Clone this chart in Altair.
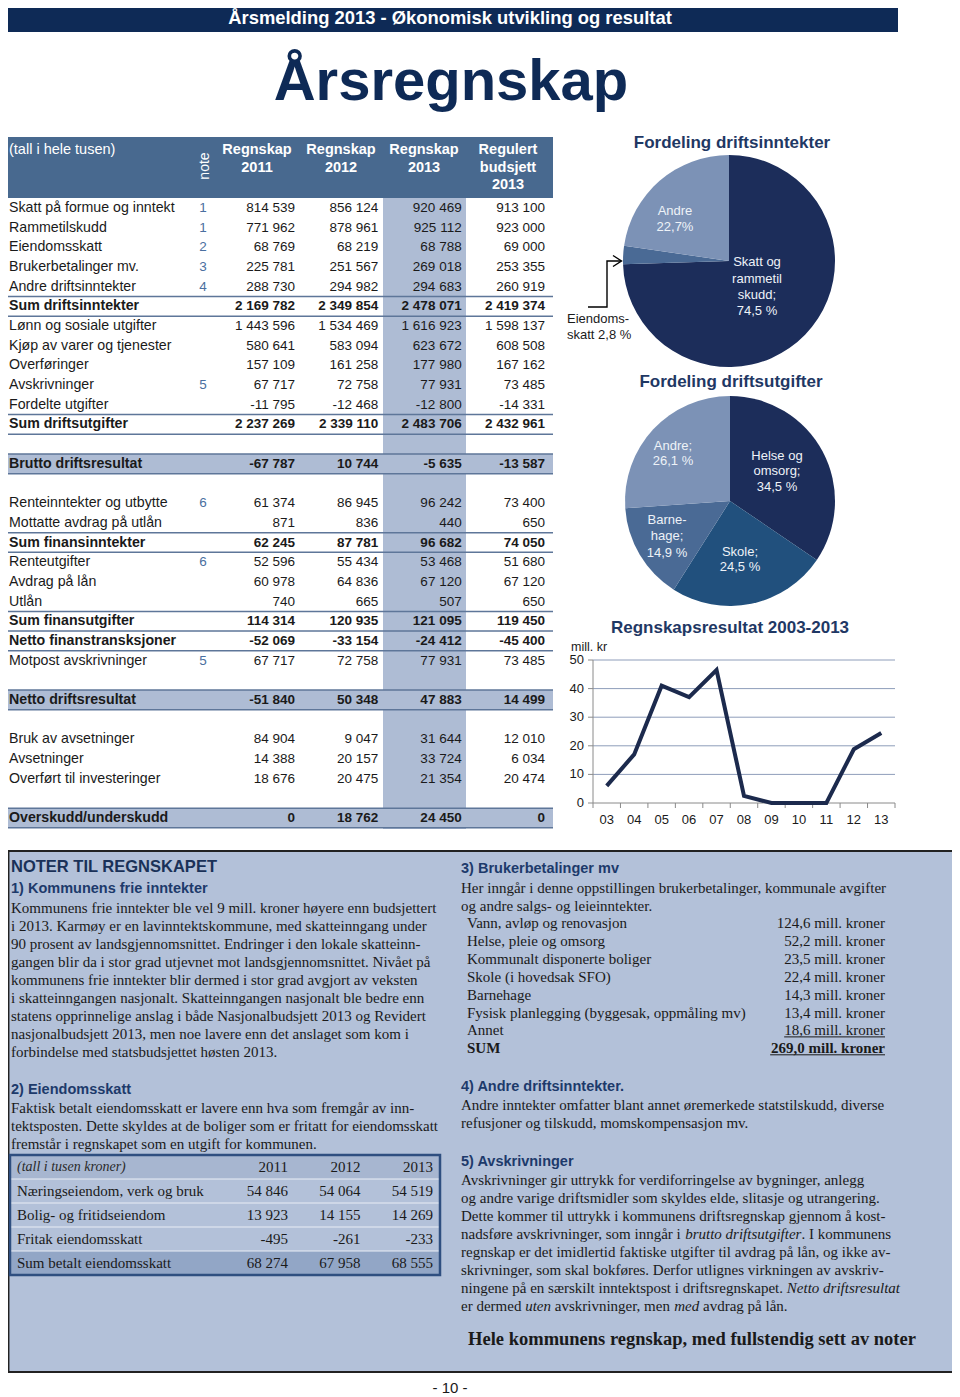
import altair as alt
import pandas as pd

W, H = 944, 1389
OX, OY = 8, 8

SANS = "Liberation Sans"
SERIF = "Liberation Serif"

NAVY = "#0e2a56"
TITLE_NAVY = "#1f3864"
HEAD_BLUE = "#48698f"
HILITE = "#aebcd4"
LINE_BLUE = "#5e7699"
PANEL = "#b3c1d9"
INK = "#1a1a1a"
NOTE_BLUE = "#4a6fa0"

# ---------------- data: main table ----------------
ROW_LABELS = [
    "Skatt på formue og inntekt", "Rammetilskudd", "Eiendomsskatt", "Brukerbetalinger mv.",
    "Andre driftsinntekter", "Sum driftsinntekter", "Lønn og sosiale utgifter",
    "Kjøp av varer og tjenester", "Overføringer", "Avskrivninger", "Fordelte utgifter",
    "Sum driftsutgifter", None, "Brutto driftsresultat", None, "Renteinntekter og utbytte",
    "Mottatte avdrag på utlån", "Sum finansinntekter", "Renteutgifter", "Avdrag på lån",
    "Utlån", "Sum finansutgifter", "Netto finanstransksjoner", "Motpost avskrivninger",
    None, "Netto driftsresultat", None, "Bruk av avsetninger", "Avsetninger",
    "Overført til investeringer", None, "Overskudd/underskudd",
]
ROW_NOTES = ["1", "1", "2", "3", "4", "", "", "", "", "5", "", "", None, "", None, "6", "", "",
             "6", "", "", "", "", "5", None, "", None, "", "", "", None, ""]
R2011 = [814539, 771962, 68769, 225781, 288730, 2169782, 1443596, 580641, 157109, 67717, -11795,
         2237269, None, -67787, None, 61374, 871, 62245, 52596, 60978, 740, 114314, -52069, 67717,
         None, -51840, None, 84904, 14388, 18676, None, 0]
R2012 = [856124, 878961, 68219, 251567, 294982, 2349854, 1534469, 583094, 161258, 72758, -12468,
         2339110, None, 10744, None, 86945, 836, 87781, 55434, 64836, 665, 120935, -33154, 72758,
         None, 50348, None, 9047, 20157, 20475, None, 18762]
R2013 = [920469, 925112, 68788, 269018, 294683, 2478071, 1616923, 623672, 177980, 77931, -12800,
         2483706, None, -5635, None, 96242, 440, 96682, 53468, 67120, 507, 121095, -24412, 77931,
         None, 47883, None, 31644, 33724, 21354, None, 24450]
BUDGET = [913100, 923000, 69000, 253355, 260919, 2419374, 1598137, 608508, 167162, 73485, -14331,
          2432961, None, -13587, None, 73400, 650, 74050, 51680, 67120, 650, 119450, -45400, 73485,
          None, 14499, None, 12010, 6034, 20474, None, 0]
COL_HEADS = [["Regnskap", "2011"], ["Regnskap", "2012"], ["Regnskap", "2013"],
             ["Regulert", "budsjett", "2013"]]
BOLD_ROWS = {"Sum driftsinntekter", "Sum driftsutgifter", "Brutto driftsresultat",
             "Sum finansinntekter", "Sum finansutgifter", "Netto finanstransksjoner",
             "Netto driftsresultat", "Overskudd/underskudd"}
BAND_ROWS = {"Brutto driftsresultat", "Netto driftsresultat", "Overskudd/underskudd"}

# ---------------- data: pies ----------------
INC_CATS = ["Skatt og rammetilskudd", "Eiendomsskatt", "Andre"]
INC_SHARE = [74.5, 2.8, 22.7]
EXP_CATS = ["Helse og omsorg", "Skole", "Barnehage", "Andre"]
EXP_SHARE = [34.5, 24.5, 14.9, 26.1]

# ---------------- data: line chart ----------------
YEARS = ["03", "04", "05", "06", "07", "08", "09", "10", "11", "12", "13"]
RESULT = [6.0, 17.0, 41.0, 37.0, 46.5, 2.5, 0.0, 0.0, 0.0, 18.8, 24.5]
Y_TICKS = [0, 10, 20, 30, 40, 50]

# ---------------- data: notes ----------------
ES_YEARS = ["2011", "2012", "2013"]
ES_LABELS = ["Næringseiendom, verk og bruk", "Bolig- og fritidseiendom", "Fritak eiendomsskatt",
             "Sum betalt eiendomsskatt"]
ES_2011 = [54846, 13923, -495, 68274]
ES_2012 = [54064, 14155, -261, 67958]
ES_2013 = [54519, 14269, -233, 68555]
BB_LABELS = ["Vann, avløp og renovasjon", "Helse, pleie og omsorg", "Kommunalt disponerte boliger",
             "Skole (i hovedsak SFO)", "Barnehage", "Fysisk planlegging (byggesak, oppmåling mv)",
             "Annet"]
BB_VALUES = [124.6, 52.2, 23.5, 22.4, 14.3, 13.4, 18.6]
BB_SUM = 269.0

# ---------------- helpers ----------------
TIMES = {" ": 250, ",": 250, ".": 250, "-": 333, "(": 333, ")": 333, ";": 278, ":": 278,
         "a": 444, "b": 500, "c": 444, "d": 500, "e": 444, "f": 333, "g": 500, "h": 500, "i": 278,
         "j": 278, "k": 500, "l": 278, "m": 778, "n": 500, "o": 500, "p": 500, "q": 500, "r": 333,
         "s": 389, "t": 278, "u": 500, "v": 500, "w": 722, "x": 500, "y": 500, "z": 444,
         "å": 444, "æ": 667, "ø": 500, "N": 722, "I": 333, "D": 722}
TIMES_I = dict(TIMES, a=500, f=278, k=444, m=722, r=389, v=444, w=667, y=444, z=389, N=667)


def tw(s, size, italic=False):
    tbl = TIMES_I if italic else TIMES
    return sum(tbl.get(ch, 500) for ch in s) * size / 1000.0


def fmt_int(v):
    return f"{v:,}".replace(",", " ")


def fmt_mill(v):
    return f"{v:.1f}".replace(".", ",") + " mill. kroner"


def sx():
    return alt.Scale(domain=[OX, OX + W], range=[0, W], nice=False, zero=False)


def sy():
    return alt.Scale(domain=[OY, OY + H], range=[0, H], nice=False, zero=False)


def PX(f):
    return alt.X(f"{f}:Q", scale=sx(), axis=None)


def PY(f):
    return alt.Y(f"{f}:Q", scale=sy(), axis=None)


def texts(items, **mk):
    df = pd.DataFrame(items, columns=["x", "y", "t"])
    return alt.Chart(df).mark_text(**mk).encode(x=PX("x"), y=PY("y"), text=alt.Text("t:N"))


def rects(items, **mk):
    df = pd.DataFrame(items, columns=["x", "y", "x2", "y2"])
    return alt.Chart(df).mark_rect(**mk).encode(
        x=PX("x"), y=PY("y"), x2=alt.X2("x2"), y2=alt.Y2("y2"))


def rules(items, **mk):
    df = pd.DataFrame(items, columns=["x", "y", "x2", "y2"])
    return alt.Chart(df).mark_rule(**mk).encode(
        x=PX("x"), y=PY("y"), x2=alt.X2("x2"), y2=alt.Y2("y2"))


L = []

# ---------------- page header ----------------
L.append(rects([(3, 3, 898, 32)], color=NAVY))
L.append(texts([(450, 18, "Årsmelding 2013 - Økonomisk utvikling og resultat")],
               font=SANS, fontSize=18.4, fontWeight="bold", color="white",
               align="center", baseline="middle"))
L.append(texts([(451, 100, "Årsregnskap")], font=SANS, fontSize=58,
               fontWeight="bold", color=NAVY, align="center", baseline="alphabetic"))

# ---------------- main table ----------------
TY = alt.Scale(domain=[0, len(ROW_LABELS) - 1], range=[208 - OY, 818 - OY], nice=False, zero=False)
TX = alt.Scale(domain=[0, 3], range=[295 - OX, 545 - OX], nice=False, zero=False)

L.append(rects([(3, 137, 553, 198)], color=HEAD_BLUE))
L.append(rects([(383, 198, 466, 829)], color=HILITE))

band_df = pd.DataFrame([{"a": i - 0.5, "b": i + 0.5} for i, lab in enumerate(ROW_LABELS)
                        if lab in BAND_ROWS])
L.append(alt.Chart(band_df).mark_rect(color=HILITE).encode(
    y=alt.Y("a:Q", scale=TY, axis=None), y2=alt.Y2("b"),
    x=alt.value(0), x2=alt.value(553 - OX)))

edges = sorted({e for i, lab in enumerate(ROW_LABELS) if lab in BOLD_ROWS
                for e in (i - 0.5, i + 0.5)})
L.append(alt.Chart(pd.DataFrame({"e": edges})).mark_rule(color=LINE_BLUE, strokeWidth=1.5).encode(
    y=alt.Y("e:Q", scale=TY, axis=None), x=alt.value(0), x2=alt.value(553 - OX)))

# header texts
L.append(texts([(9, 150, "(tall i hele tusen)")], font=SANS, fontSize=14.5, color="white",
               align="left", baseline="middle"))
L.append(texts([(205, 166, "note")], font=SANS, fontSize=14, color="white", align="center",
               baseline="middle", angle=270))
head_items = []
for c, lines in enumerate(COL_HEADS):
    cx = [257, 341, 424, 508][c]
    for k, s in enumerate(lines):
        head_items.append((cx, 150 + k * 17.5, s))
L.append(texts(head_items, font=SANS, fontSize=14.5, fontWeight="bold", color="white",
               align="center", baseline="middle"))

lab_rows = [{"row": i, "t": lab, "note": ROW_NOTES[i], "bold": lab in BOLD_ROWS}
            for i, lab in enumerate(ROW_LABELS) if lab is not None]
lab_df = pd.DataFrame(lab_rows)
for bold in (False, True):
    sub = lab_df[lab_df["bold"] == bold]
    L.append(alt.Chart(sub).mark_text(
        align="left", baseline="middle", font=SANS, fontSize=14.2,
        fontWeight="bold" if bold else "normal", color=INK).encode(
        x=alt.value(9 - OX), y=alt.Y("row:Q", scale=TY, axis=None), text=alt.Text("t:N")))
note_df = lab_df[lab_df["note"] != ""]
L.append(alt.Chart(note_df).mark_text(
    align="center", baseline="middle", font=SANS, fontSize=13.5, color=NOTE_BLUE).encode(
    x=alt.value(203 - OX), y=alt.Y("row:Q", scale=TY, axis=None), text=alt.Text("note:N")))

val_rows = []
for c, arr in enumerate([R2011, R2012, R2013, BUDGET]):
    for i, v in enumerate(arr):
        if v is not None:
            val_rows.append({"row": i, "col": c, "t": fmt_int(v),
                             "bold": ROW_LABELS[i] in BOLD_ROWS})
val_df = pd.DataFrame(val_rows)
for bold in (False, True):
    sub = val_df[val_df["bold"] == bold]
    L.append(alt.Chart(sub).mark_text(
        align="right", baseline="middle", font=SANS, fontSize=13.5,
        fontWeight="bold" if bold else "normal", color=INK).encode(
        x=alt.X("col:Q", scale=TX, axis=None), y=alt.Y("row:Q", scale=TY, axis=None),
        text=alt.Text("t:N")))

# ---------------- pies ----------------
PIE_DARK, PIE_MID, PIE_LIGHT, PIE_SKOLE = "#1c2d5a", "#4a6a95", "#7c92b6", "#21507d"
INC_COLORS = {"Skatt og rammetilskudd": PIE_DARK, "Eiendomsskatt": PIE_MID, "Andre": PIE_LIGHT}
EXP_COLORS = {"Helse og omsorg": PIE_DARK, "Skole": PIE_SKOLE, "Barnehage": PIE_MID,
              "Andre": PIE_LIGHT}


def pie(cats, shares, colors, cx, cy, r):
    df = pd.DataFrame({"cat": cats, "share": shares, "o": list(range(len(cats)))})
    df["col"] = df["cat"].map(colors)
    return alt.Chart(df).mark_arc(outerRadius=r).encode(
        theta=alt.Theta("share:Q", stack=True, scale=alt.Scale(domain=[0, 100])),
        order=alt.Order("o:Q"),
        color=alt.Color("col:N", scale=None),
        x=alt.value(cx - OX), y=alt.value(cy - OY))


L.append(pie(INC_CATS, INC_SHARE, INC_COLORS, 729, 261, 106))
L.append(pie(EXP_CATS, EXP_SHARE, EXP_COLORS, 730, 501, 105))

L.append(texts([(732, 143, "Fordeling driftsinntekter"), (731, 382, "Fordeling driftsutgifter"),
                (730, 628, "Regnskapsresultat 2003-2013")],
               font=SANS, fontSize=17, fontWeight="bold", color=TITLE_NAVY, align="center",
               baseline="middle"))

pie_white = [
    (675, 211, "Andre"), (675, 227, "22,7%"),
    (757, 262, "Skatt og"), (757, 279, "rammetil"), (757, 295, "skudd;"), (757, 311, "74,5 %"),
    (673, 446, "Andre;"), (673, 461, "26,1 %"),
    (777, 456, "Helse og"), (777, 471, "omsorg;"), (777, 487, "34,5 %"),
    (667, 520, "Barne-"), (667, 536, "hage;"), (667, 553, "14,9 %"),
    (740, 552, "Skole;"), (740, 567, "24,5 %"),
]
L.append(texts(pie_white, font=SANS, fontSize=13, color="#eef2f8", align="center",
               baseline="middle"))
L.append(texts([(567, 319, "Eiendoms-"), (567, 335, "skatt  2,8 %")], font=SANS, fontSize=13,
               color=INK, align="left", baseline="middle"))
arrow = pd.DataFrame({
    "x": [588, 607, 607, 621, 613, 621.5, 613],
    "y": [307, 307, 261, 261, 255.5, 261, 266.5],
    "o": [0, 1, 2, 3, 0, 1, 2],
    "seg": ["a", "a", "a", "a", "b", "b", "b"],
})
L.append(alt.Chart(arrow).mark_line(color="black", strokeWidth=1.4).encode(
    x=PX("x"), y=PY("y"), order="o:Q", detail="seg:N"))

# ---------------- line chart ----------------
LX = alt.Scale(domain=[-0.5, len(YEARS) - 0.5], range=[593 - OX, 895 - OX], nice=False, zero=False)
LY = alt.Scale(domain=[Y_TICKS[0], Y_TICKS[-1]], range=[803 - OY, 660 - OY], nice=False, zero=False)

L.append(rects([(593, 660, 895, 803)], color="white"))
grid_df = pd.DataFrame({"v": Y_TICKS[1:]})
L.append(alt.Chart(grid_df).mark_rule(color="#8e9dba", strokeWidth=1).encode(
    y=alt.Y("v:Q", scale=LY, axis=None), x=alt.value(593 - OX), x2=alt.value(895 - OX)))
L.append(alt.Chart(pd.DataFrame({"v": Y_TICKS})).mark_rule(color="#8a8a8a", strokeWidth=1).encode(
    y=alt.Y("v:Q", scale=LY, axis=None), x=alt.value(588 - OX), x2=alt.value(593 - OX)))
L.append(alt.Chart(pd.DataFrame({"a": [Y_TICKS[0]], "b": [Y_TICKS[-1]]})).mark_rule(
    color="#8a8a8a", strokeWidth=1).encode(
    y=alt.Y("a:Q", scale=LY, axis=None), y2=alt.Y2("b"), x=alt.value(593 - OX)))
L.append(alt.Chart(pd.DataFrame({"v": [Y_TICKS[0]]})).mark_rule(color="#8a8a8a", strokeWidth=1).encode(
    y=alt.Y("v:Q", scale=LY, axis=None), x=alt.value(593 - OX), x2=alt.value(895 - OX)))
bounds = pd.DataFrame({"b": [i - 0.5 for i in range(len(YEARS) + 1)]})
L.append(alt.Chart(bounds).mark_rule(color="#8a8a8a", strokeWidth=1).encode(
    x=alt.X("b:Q", scale=LX, axis=None), y=alt.value(803 - OY), y2=alt.value(808 - OY)))
L.append(alt.Chart(pd.DataFrame({"v": Y_TICKS, "t": [str(v) for v in Y_TICKS]})).mark_text(
    align="right", baseline="middle", font=SANS, fontSize=13, color=INK).encode(
    y=alt.Y("v:Q", scale=LY, axis=None), x=alt.value(584 - OX), text=alt.Text("t:N")))
line_df = pd.DataFrame({"i": list(range(len(YEARS))), "yr": YEARS, "v": RESULT})
L.append(alt.Chart(line_df).mark_text(
    align="center", baseline="middle", font=SANS, fontSize=13, color=INK).encode(
    x=alt.X("i:Q", scale=LX, axis=None), y=alt.value(820 - OY), text=alt.Text("yr:N")))
L.append(alt.Chart(line_df).mark_line(color="#1c2a4d", strokeWidth=4, strokeJoin="miter").encode(
    x=alt.X("i:Q", scale=LX, axis=None), y=alt.Y("v:Q", scale=LY, axis=None), order="i:Q"))
L.append(texts([(571, 647, "mill. kr")], font=SANS, fontSize=12.5, color=INK, align="left",
               baseline="middle"))

# ---------------- notes panel ----------------
L.append(rects([(3, 851, 952, 1372)], color=PANEL))
L.append(rules([(3, 851, 952, 851)], color="#222222", strokeWidth=2))
L.append(rules([(3, 1372, 960, 1372)], color="#222222", strokeWidth=2))
L.append(rules([(8.7, 851, 8.7, 1372)], color="#222222", strokeWidth=1.5))

HEAD_MK = dict(font=SANS, fontSize=14.5, fontWeight="bold", color="#1d3a6b", align="left",
               baseline="middle")
BODY_MK = dict(font=SERIF, fontSize=15, color=INK, align="left", baseline="middle")

L.append(texts([(11, 867, "NOTER TIL REGNSKAPET")], font=SANS, fontSize=16.5, fontWeight="bold",
               color="#1a3158", align="left", baseline="middle"))
L.append(texts([(11, 889, "1) Kommunens frie inntekter"), (11, 1090, "2) Eiendomsskatt"),
                (461, 869, "3) Brukerbetalinger mv"), (461, 1087, "4) Andre driftsinntekter."),
                (461, 1162, "5) Avskrivninger")], **HEAD_MK))

NOTE1 = [
    "Kommunens frie inntekter ble vel 9 mill. kroner høyere enn budsjettert",
    "i 2013. Karmøy er en lavinntektskommune, med skatteinngang under",
    "90 prosent av landsgjennomsnittet. Endringer i den lokale skatteinn-",
    "gangen blir da i stor grad utjevnet mot landsgjennomsnittet. Nivået på",
    "kommunens frie inntekter blir dermed i stor grad avgjort av veksten",
    "i skatteinngangen nasjonalt. Skatteinngangen nasjonalt ble bedre enn",
    "statens opprinnelige anslag i både Nasjonalbudsjett 2013 og Revidert",
    "nasjonalbudsjett 2013, men noe lavere enn det anslaget som kom i",
    "forbindelse med statsbudsjettet høsten 2013.",
]
NOTE2 = [
    "Faktisk betalt eiendomsskatt er lavere enn hva som fremgår av inn-",
    "tektsposten. Dette skyldes at de boliger som er fritatt for eiendomsskatt",
    "fremstår i regnskapet som en utgift for kommunen.",
]
NOTE3 = [
    "Her inngår i denne oppstillingen brukerbetalinger, kommunale avgifter",
    "og andre salgs- og leieinntekter.",
]
NOTE4 = [
    "Andre inntekter omfatter blant annet øremerkede statstilskudd, diverse",
    "refusjoner og tilskudd, momskompensasjon mv.",
]
NOTE5_PLAIN = [
    "Avskrivninger gir uttrykk for verdiforringelse av bygninger, anlegg",
    "og andre varige driftsmidler som skyldes elde, slitasje og utrangering.",
    "Dette kommer til uttrykk i kommunens driftsregnskap gjennom å kost-",
]
NOTE5_MIXED = [
    [("nadsføre avskrivninger, som inngår i ", "n"), ("brutto driftsutgifter", "i"),
     (". I kommunens", "n")],
    [("regnskap er det imidlertid faktiske utgifter til avdrag på lån, og ikke av-", "n")],
    [("skrivninger, som skal bokføres. Derfor utlignes virkningen av avskriv-", "n")],
    [("ningene på en særskilt inntektspost i driftsregnskapet. ", "n"),
     ("Netto driftsresultat", "i")],
    [("er dermed ", "n"), ("uten", "i"), (" avskrivninger, men ", "n"), ("med", "i"),
     (" avdrag på lån.", "n")],
]

body = []
body += [(11, 907.5 + 18 * k, s) for k, s in enumerate(NOTE1)]
body += [(11, 1108 + 18 * k, s) for k, s in enumerate(NOTE2)]
body += [(461, 887.5 + 18 * k, s) for k, s in enumerate(NOTE3)]
body += [(461, 1105 + 18 * k, s) for k, s in enumerate(NOTE4)]
body += [(461, 1180 + 18 * k, s) for k, s in enumerate(NOTE5_PLAIN)]
ital = []
for k, segs in enumerate(NOTE5_MIXED):
    yy = 1180 + 18 * (k + len(NOTE5_PLAIN))
    xx = 461
    for s, st in segs:
        lead = len(s) - len(s.lstrip(" "))
        xs = xx + tw(s[:lead], 15, st == "i")
        (ital if st == "i" else body).append((xs, yy, s.strip()))
        xx += tw(s, 15, st == "i")
L.append(texts(body, **BODY_MK))
L.append(texts(ital, fontStyle="italic", **BODY_MK))

# brukerbetalinger list
bb_y = [923 + 17.9 * k for k in range(len(BB_LABELS) + 1)]
L.append(texts([(467, bb_y[k], s) for k, s in enumerate(BB_LABELS)], **BODY_MK))
L.append(texts([(885, bb_y[k], fmt_mill(v)) for k, v in enumerate(BB_VALUES)],
               **dict(BODY_MK, align="right")))
L.append(texts([(467, bb_y[-1], "SUM")], fontWeight="bold", **BODY_MK))
L.append(texts([(885, bb_y[-1], fmt_mill(BB_SUM))], fontWeight="bold",
               **dict(BODY_MK, align="right")))
u1 = fmt_mill(BB_VALUES[-1])
u2 = fmt_mill(BB_SUM)
L.append(rules([(885 - tw(u1, 15), bb_y[-2] + 6.5, 885, bb_y[-2] + 6.5),
                (885 - tw(u2, 15) * 1.06, bb_y[-1] + 6.5, 885, bb_y[-1] + 6.5)],
               color=INK, strokeWidth=1))

# eiendomsskatt table
ESY = alt.Scale(domain=[0, len(ES_LABELS)], range=[1167 - OY, 1263 - OY], nice=False, zero=False)
ESX = alt.Scale(domain=[0, 2], range=[288 - OX, 433 - OX], nice=False, zero=False)
es_fill = pd.DataFrame({"a": [-0.5, len(ES_LABELS) - 0.5], "b": [0.5, len(ES_LABELS) + 0.5],
                        "c": ["#a7b6d0", "#92a6c6"]})
L.append(alt.Chart(es_fill).mark_rect().encode(
    y=alt.Y("a:Q", scale=ESY, axis=None), y2=alt.Y2("b"), color=alt.Color("c:N", scale=None),
    x=alt.value(10 - OX), x2=alt.value(440 - OX)))
L.append(alt.Chart(pd.DataFrame({"e": [k + 0.5 for k in range(len(ES_LABELS))]})).mark_rule(
    color="#e9eef6", strokeWidth=1.2).encode(
    y=alt.Y("e:Q", scale=ESY, axis=None), x=alt.value(10 - OX), x2=alt.value(440 - OX)))
L.append(alt.Chart(pd.DataFrame({"a": [-0.5], "b": [len(ES_LABELS) + 0.5]})).mark_rect(
    fill=None, fillOpacity=0, stroke="#2f4f80", strokeWidth=2.5).encode(
    y=alt.Y("a:Q", scale=ESY, axis=None), y2=alt.Y2("b"),
    x=alt.value(10 - OX), x2=alt.value(440 - OX)))
es_lab = pd.DataFrame({"r": list(range(1, len(ES_LABELS) + 1)), "t": ES_LABELS})
L.append(alt.Chart(es_lab).mark_text(**dict(BODY_MK, fontSize=15)).encode(
    y=alt.Y("r:Q", scale=ESY, axis=None), x=alt.value(17 - OX), text=alt.Text("t:N")))
L.append(alt.Chart(pd.DataFrame({"r": [0], "t": ["(tall i tusen kroner)"]})).mark_text(
    fontStyle="italic", **dict(BODY_MK, fontSize=14, color="#2a2a2a")).encode(
    y=alt.Y("r:Q", scale=ESY, axis=None), x=alt.value(17 - OX), text=alt.Text("t:N")))
es_vals = [{"r": 0, "c": c, "t": y} for c, y in enumerate(ES_YEARS)]
for c, arr in enumerate([ES_2011, ES_2012, ES_2013]):
    for k, v in enumerate(arr):
        es_vals.append({"r": k + 1, "c": c, "t": fmt_int(v)})
L.append(alt.Chart(pd.DataFrame(es_vals)).mark_text(**dict(BODY_MK, align="right")).encode(
    y=alt.Y("r:Q", scale=ESY, axis=None), x=alt.X("c:Q", scale=ESX, axis=None),
    text=alt.Text("t:N")))

# footer
L.append(texts([(692, 1339, "Hele kommunens regnskap, med fullstendig sett av noter")],
               font=SERIF, fontSize=18.5, fontWeight="bold", color=INK, align="center",
               baseline="middle"))
L.append(texts([(450, 1388, "- 10 -")], font=SANS, fontSize=15, color=INK, align="center",
               baseline="middle"))

chart = alt.layer(*L).resolve_scale(
    x="independent", y="independent", theta="independent"
).properties(
    width=W, height=H, padding=0, autosize=alt.AutoSizeParams(type="none"), background="white"
).configure_view(stroke=None)

chart.save("out.html", embed_options={"renderer": "svg", "actions": False})
